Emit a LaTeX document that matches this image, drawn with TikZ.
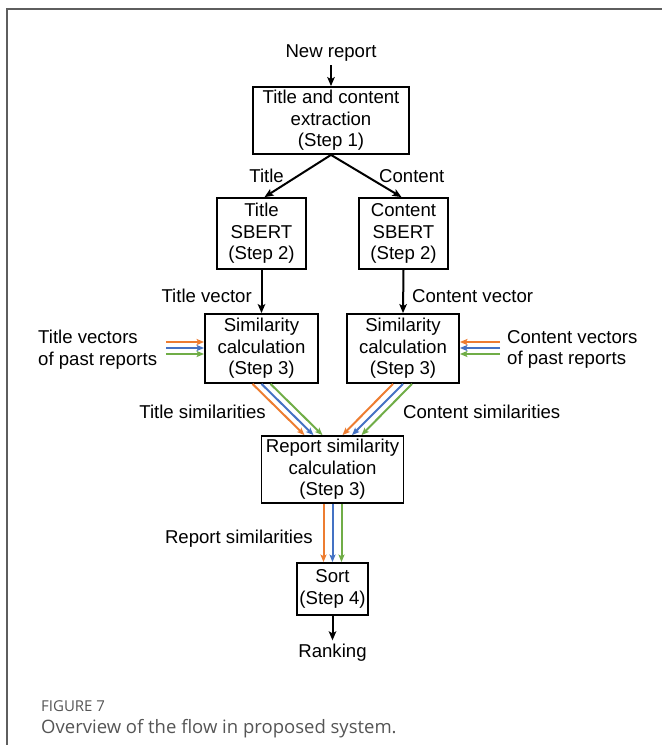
\documentclass[tikz,border=0pt]{standalone}
\usepackage{fontspec}
\setmainfont{Liberation Sans}
\newfontfamily\capfont{Open Sans}
\usetikzlibrary{arrows.meta,calc}
\definecolor{arrorange}{HTML}{ED7D31}
\definecolor{arrblue}{HTML}{4472C4}
\definecolor{arrgreen}{HTML}{70AD47}
\definecolor{framegray}{HTML}{5E5E5E}
\definecolor{capgray}{HTML}{555555}

\begin{document}
\begin{tikzpicture}[x=1pt,y=-1pt,
  every node/.style={font=\fontsize{18.6}{21.5}\selectfont, inner sep=0pt},
  stepbox/.style={draw, line width=1.8pt, align=center},
  blk/.style={line width=2pt, -{Stealth[length=9pt,width=7.5pt,inset=2pt]}},
  col/.style={line width=2pt, -{Stealth[length=7.5pt,width=6pt,inset=1.5pt]}},
  ]
\useasboundingbox (0,0) rectangle (662,745);

% frame of the figure panel
\draw[framegray, line width=2pt] (7,745) -- (7,9) -- (662,9);

% process boxes
\node[stepbox, minimum width=156pt, minimum height=67pt] (extract) at (331,120.5) {Title and content\\extraction\\(Step 1)};
\node[stepbox, minimum width=89pt, minimum height=71pt] (tsbert) at (261.5,233.5) {Title\\SBERT\\(Step 2)};
\node[stepbox, minimum width=89pt, minimum height=71pt] (csbert) at (403.5,233.5) {Content\\SBERT\\(Step 2)};
\node[stepbox, minimum width=113pt, minimum height=69pt] (tsim) at (261.5,348.5) {Similarity\\calculation\\(Step 3)};
\node[stepbox, minimum width=112pt, minimum height=69pt] (csim) at (403,348.5) {Similarity\\calculation\\(Step 3)};
\node[stepbox, minimum width=142pt, minimum height=67pt] (rep) at (332.5,469.5) {Report similarity\\calculation\\(Step 3)};
\node[stepbox, minimum width=71pt, minimum height=52pt] (sort) at (332.5,589) {Sort\\(Step 4)};

% input and output texts
\node[anchor=base] (newrep) at (331,57) {New report};
\node[anchor=base] (ranking) at (332.5,657) {Ranking};
\node[anchor=north west, align=left] (tvp) at (38,330) {Title vectors\\of past reports};
\node[anchor=north west, align=left] (cvp) at (507,330) {Content vectors\\of past reports};

% edge labels
\node[anchor=base east] (ltitle) at (284,182) {Title};
\node[anchor=base west] (lcontent) at (379,182) {Content};
\node[anchor=base east] (ltv) at (252,302) {Title vector};
\node[anchor=base west] (lcv) at (412,302) {Content vector};
\node[anchor=base east] (lts) at (266,418) {Title similarities};
\node[anchor=base west] (lcs) at (403,418) {Content similarities};
\node[anchor=base east] (lrs) at (313,543) {Report similarities};

% black connectors
\draw[blk, shorten <=4pt] (newrep.south) -- (extract.north);
\draw[blk] (extract.south) -- ($(tsbert.north)+(3,0)$);
\draw[blk] (extract.south) -- ($(csbert.north)+(-2,0)$);
\draw[blk] (tsbert.south) -- (tsim.north);
\draw[blk] (csbert.south) -- (csim.north);
\draw[blk, shorten >=3pt] (sort.south) -- (ranking.north);

% vectors of past reports
\coordinate (tvo) at (166,342);
\coordinate (tvb) at (166,348);
\coordinate (tvg) at (166,354);
\coordinate (cvo) at (500,342);
\coordinate (cvb) at (500,348);
\coordinate (cvg) at (500,354);
\draw[col, arrorange] (tvo) -- (tvo -| tsim.west);
\draw[col, arrblue]   (tvb) -- (tvb -| tsim.west);
\draw[col, arrgreen]  (tvg) -- (tvg -| tsim.west);
\draw[col, arrorange] (cvo) -- (cvo -| csim.east);
\draw[col, arrblue]   (cvb) -- (cvb -| csim.east);
\draw[col, arrgreen]  (cvg) -- (cvg -| csim.east);

% similarities into the report similarity step
\draw[col, arrorange] ($(tsim.south)+(-9,0)$) -- ($(rep.north)+(-28,0)$);
\draw[col, arrblue]   ($(tsim.south)+(0,0)$)  -- ($(rep.north)+(-19,0)$);
\draw[col, arrgreen]  ($(tsim.south)+(9,0)$)  -- ($(rep.north)+(-10,0)$);
\draw[col, arrorange] ($(csim.south)+(-10,0)$) -- ($(rep.north)+(10,0)$);
\draw[col, arrblue]   ($(csim.south)+(0,0)$)   -- ($(rep.north)+(19.5,0)$);
\draw[col, arrgreen]  ($(csim.south)+(9,0)$)   -- ($(rep.north)+(29,0)$);

% report similarities into sorting
\draw[col, arrorange] ($(rep.south)+(-9,0)$) -- ($(sort.north)+(-9,0)$);
\draw[col, arrblue]   ($(rep.south)+(0,0)$)  -- ($(sort.north)+(0,0)$);
\draw[col, arrgreen]  ($(rep.south)+(9,0)$)  -- ($(sort.north)+(9,0)$);

% caption
\node[anchor=base west, font=\capfont\fontsize{15}{18}\selectfont, text=capgray] (fignum) at (41,711) {FIGURE 7};
\node[anchor=base west, font=\capfont\fontsize{18.5}{22}\selectfont, text=capgray] (figcap) at (41,733) {Overview of the flow in proposed system.};
\end{tikzpicture}
\end{document}
